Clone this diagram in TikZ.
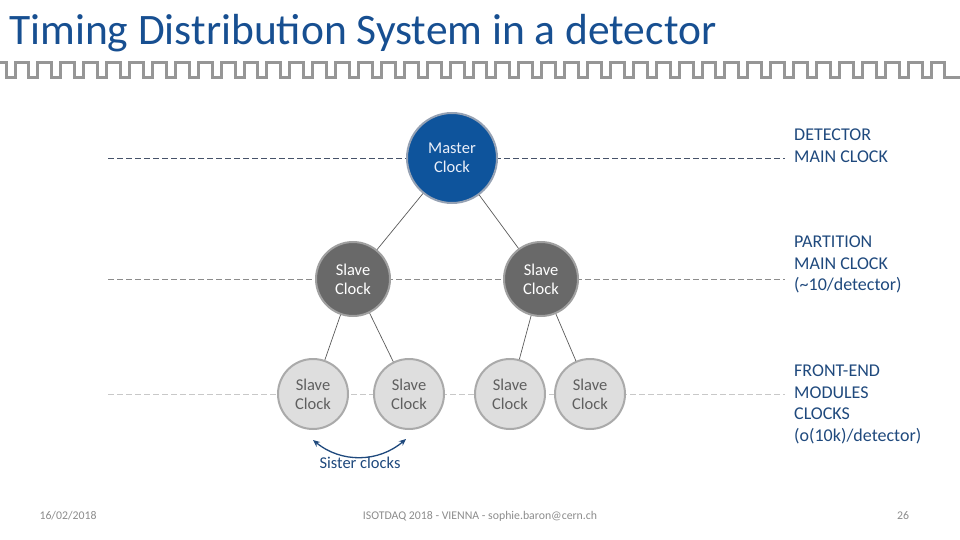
\documentclass[tikz,border=0pt]{standalone}
\usepackage{fontspec}
\setmainfont{Carlito}
\usepackage{tikz}
\usetikzlibrary{arrows.meta,positioning,calc}
\definecolor{titleblue}{RGB}{23,79,145}
\definecolor{masterblue}{RGB}{14,84,156}
\definecolor{labelblue}{RGB}{31,73,125}
\definecolor{darkslave}{RGB}{105,105,105}
\definecolor{lightslave}{RGB}{222,222,222}
\definecolor{footgray}{RGB}{140,140,140}

\begin{document}
\begin{tikzpicture}[
x=1pt,y=-1pt,
clock/.style={circle,minimum size=90pt,inner sep=0pt,align=center,line width=2pt,font=\fontsize{16.5}{19}\selectfont},
master/.style={clock,fill=masterblue,draw={rgb,255:red,150;green,162;blue,180},text={rgb,255:red,235;green,240;blue,250}},
slavetwo/.style={clock,minimum size=74pt,fill=darkslave,draw={rgb,255:red,160;green,160;blue,160},text=white},
slavethree/.style={clock,minimum size=70pt,fill=lightslave,draw={rgb,255:red,170;green,170;blue,170},text={rgb,255:red,95;green,95;blue,95}},
guide/.style={dashed,dash pattern=on 6pt off 3pt,line width=0.9pt},
link/.style={draw={rgb,255:red,90;green,90;blue,90},line width=0.7pt},
lvl/.style={anchor=west,align=left,inner sep=0pt,text=labelblue,font=\fontsize{18}{21.7}\selectfont},
foot/.style={anchor=base,text=footgray,font=\fontsize{11.8}{13}\selectfont},
sister/.style={{Stealth[length=7pt,width=6pt]}-{Stealth[length=7pt,width=6pt]},line width=1.3pt,labelblue}
]
\useasboundingbox (0,0) rectangle (960,540);
% title and clock waveform
\node[anchor=base west,inner sep=0pt,text=titleblue,font=\fontsize{43.5}{46}\selectfont] (title) at (9,45) {Timing Distribution System in a detector};
\draw[line width=3pt,color={rgb,255:red,150;green,150;blue,150}] (0,63)
  \foreach \i in {0,...,40}{ -- ({\i*22.9+6},63) -- ({\i*22.9+6},78) -- ({\i*22.9+15},78) -- ({\i*22.9+15},63) } -- (944.9,63) -- (944.9,78) -- (960,78);
% level guides
\draw[guide,color={rgb,255:red,70;green,82;blue,105}] (108,158) -- (785,158);
\draw[guide,color={rgb,255:red,140;green,140;blue,140}] (108,279) -- (785,279);
\draw[guide,color={rgb,255:red,200;green,200;blue,200}] (108,394) -- (785,394);
% clocks
\node[master] (mc) at (452,158) {Master\\Clock};
\node[slavetwo] (sa) at (353,279) {Slave\\Clock};
\node[slavetwo] (sb) at (541,279) {Slave\\Clock};
\node[slavethree] (fa) at (313,394) {Slave\\Clock};
\node[slavethree] (fb) at (409,394) {Slave\\Clock};
\node[slavethree] (fc) at (510,394) {Slave\\Clock};
\node[slavethree] (fd) at (590,394) {Slave\\Clock};
\draw[link] (mc) -- (sa);
\draw[link] (mc) -- (sb);
\draw[link] (sa) -- (fa);
\draw[link] (sa) -- (fb);
\draw[link] (sb) -- (fc);
\draw[link] (sb) -- (fd);
% sister clocks
\draw[sister] ([yshift=-10pt]fa.south) to[bend right=40] ([xshift=-3pt,yshift=-9pt]fb.south);
\node[text=labelblue,font=\fontsize{16.5}{18}\selectfont] (sis) at (360,463) {Sister clocks};
% level labels
\node[lvl] (l1) at (794,145.5) {DETECTOR\\MAIN CLOCK};
\node[lvl] (l2) at (794,264.5) {PARTITION\\MAIN CLOCK\\(\textasciitilde10/detector)};
\node[lvl] (l3) at (794,404.5) {FRONT-END\\MODULES\\CLOCKS\\(o(10k)/detector)};
% footer
\node[foot] (date) at (68,519) {16/02/2018};
\node[foot] (conf) at (480,519) {ISOTDAQ 2018 - VIENNA - sophie.baron@cern.ch};
\node[foot] (page) at (903,519) {26};
\end{tikzpicture}
\end{document}
